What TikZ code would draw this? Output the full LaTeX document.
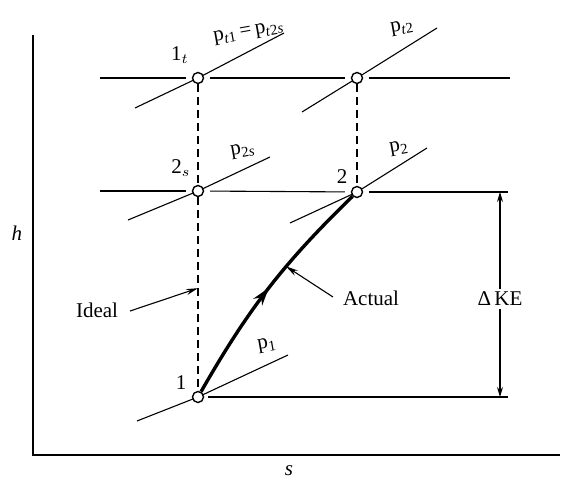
\documentclass[tikz,border=0pt]{standalone}
\usepackage{fontspec}
\setmainfont{Liberation Serif}
\usetikzlibrary{arrows.meta,backgrounds,decorations.markings}
\newcommand{\psub}[1]{p\textsubscript{#1}}

\begin{document}
\begin{tikzpicture}[
  x=0.5pt, y=-0.5pt,
  font=\fontsize{10.5}{12}\selectfont,
  state/.style={circle, draw, fill=white, line width=0.7pt, inner sep=0pt, minimum size=5.5pt},
  thin line/.style={line width=0.55pt},
  gap/.style={shorten <=3pt, shorten >=3pt},
  dashline/.style={line width=0.55pt, dash pattern=on 4pt off 2.5pt},
  axis/.style={line width=1pt},
  process/.style={line width=1.7pt, postaction={decorate},
    decoration={markings, mark=at position 0.5 with {\arrow{Stealth[length=9pt,width=5.5pt]}}}},
  pointer/.style={-{Stealth[length=6pt,width=3pt]}, line width=0.55pt},
  dim/.style={{Stealth[length=5pt,width=3pt]}-{Stealth[length=5pt,width=3pt]}, line width=0.55pt},
  plabel/.style={anchor=base west, rotate=10, inner sep=0pt}
]
  \useasboundingbox (0,0) rectangle (569,481);

  \node[state] (n1t) at (198,78) {};
  \node[state] (ntr) at (357,78) {};
  \node[state] (n2s) at (198,191) {};
  \node[state] (n2) at (357,192) {};
  \node[state] (n1) at (198,397) {};

  \node (l1t) at (180,55) {1$_t$};
  \node (l2s) at (181,168) {2$_s$};
  \node (l2) at (342,177) {2};
  \node (l1) at (181,383) {1};

  \node[plabel] (pt1) at (214,42) {\psub{\textit{t}1}\,=\,\psub{\textit{t}2\textit{s}}};
  \node[plabel] (pt2) at (391,33) {\psub{\textit{t}2}};
  \node[plabel] (p2s) at (231,156) {\psub{2\textit{s}}};
  \node[plabel] (p2) at (390,153) {\psub{2}};
  \node[plabel] (p1) at (258,350) {\psub{1}};

  \node (ideal) at (97,310) {Ideal};
  \node[anchor=west] (actual) at (336,298) {Actual};
  \node (hlab) at (17,233) {\textit{h}};
  \node (slab) at (289,471) {\textit{s}};

  \coordinate (ytop) at (33,35);
  \coordinate (origin) at (33,455);
  \coordinate (xend) at (560,455);
  \coordinate (top left) at (100,78);
  \coordinate (top right) at (510,78);
  \coordinate (mid left) at (100,191);
  \coordinate (mid right) at (508,192);
  \coordinate (bot right) at (508,397);
  \coordinate (ke top) at (500,192);
  \coordinate (ke bot) at (500,397);

  \begin{scope}[on background layer]
    \draw[axis] (ytop) -- (origin) -- (xend);

    \draw[thin line, shorten >=3pt] (top left) -- (n1t);
    \draw[thin line, gap] (n1t) -- (ntr);
    \draw[thin line, shorten <=3pt] (ntr) -- (top right);
    \draw[thin line, shorten >=3pt] (mid left) -- (n2s);
    \draw[thin line, gap] (n2s) -- (n2);
    \draw[thin line, shorten <=3pt] (n2) -- (mid right);
    \draw[thin line, shorten <=2pt] (n1) -- (bot right);

    \draw[thin line] (135,108) -- (n1t.center) -- (284,33);
    \draw[thin line] (302,112) -- (ntr.center) -- (437,28);
    \draw[thin line] (128,220) -- (n2s.center) -- (270,157);
    \draw[thin line] (290,223) -- (n2.center) -- (427,148);
    \draw[thin line] (137,421) -- (n1.center) -- (288,355);

    \draw[dashline] (n1t) -- (n2s);
    \draw[dashline] (n2s) -- coordinate[pos=0.47] (on ideal) (n1);
    \draw[dashline] (ntr) -- (n2);

    \draw[process] (n1) to[bend left=8] coordinate[pos=0.62] (on actual) (n2);
  \end{scope}

  \draw[pointer] (ideal.east) ++(5,1) coordinate (ideal tail) (ideal tail) -- (on ideal);
  \draw[pointer] (actual.west) ++(-3,-1) coordinate (actual tail) (actual tail) -- (on actual);
  \draw[dim] (ke top) -- node[pos=0.52, fill=white, inner sep=1.5pt] (ke) {Δ\,KE} (ke bot);
\end{tikzpicture}
\end{document}
